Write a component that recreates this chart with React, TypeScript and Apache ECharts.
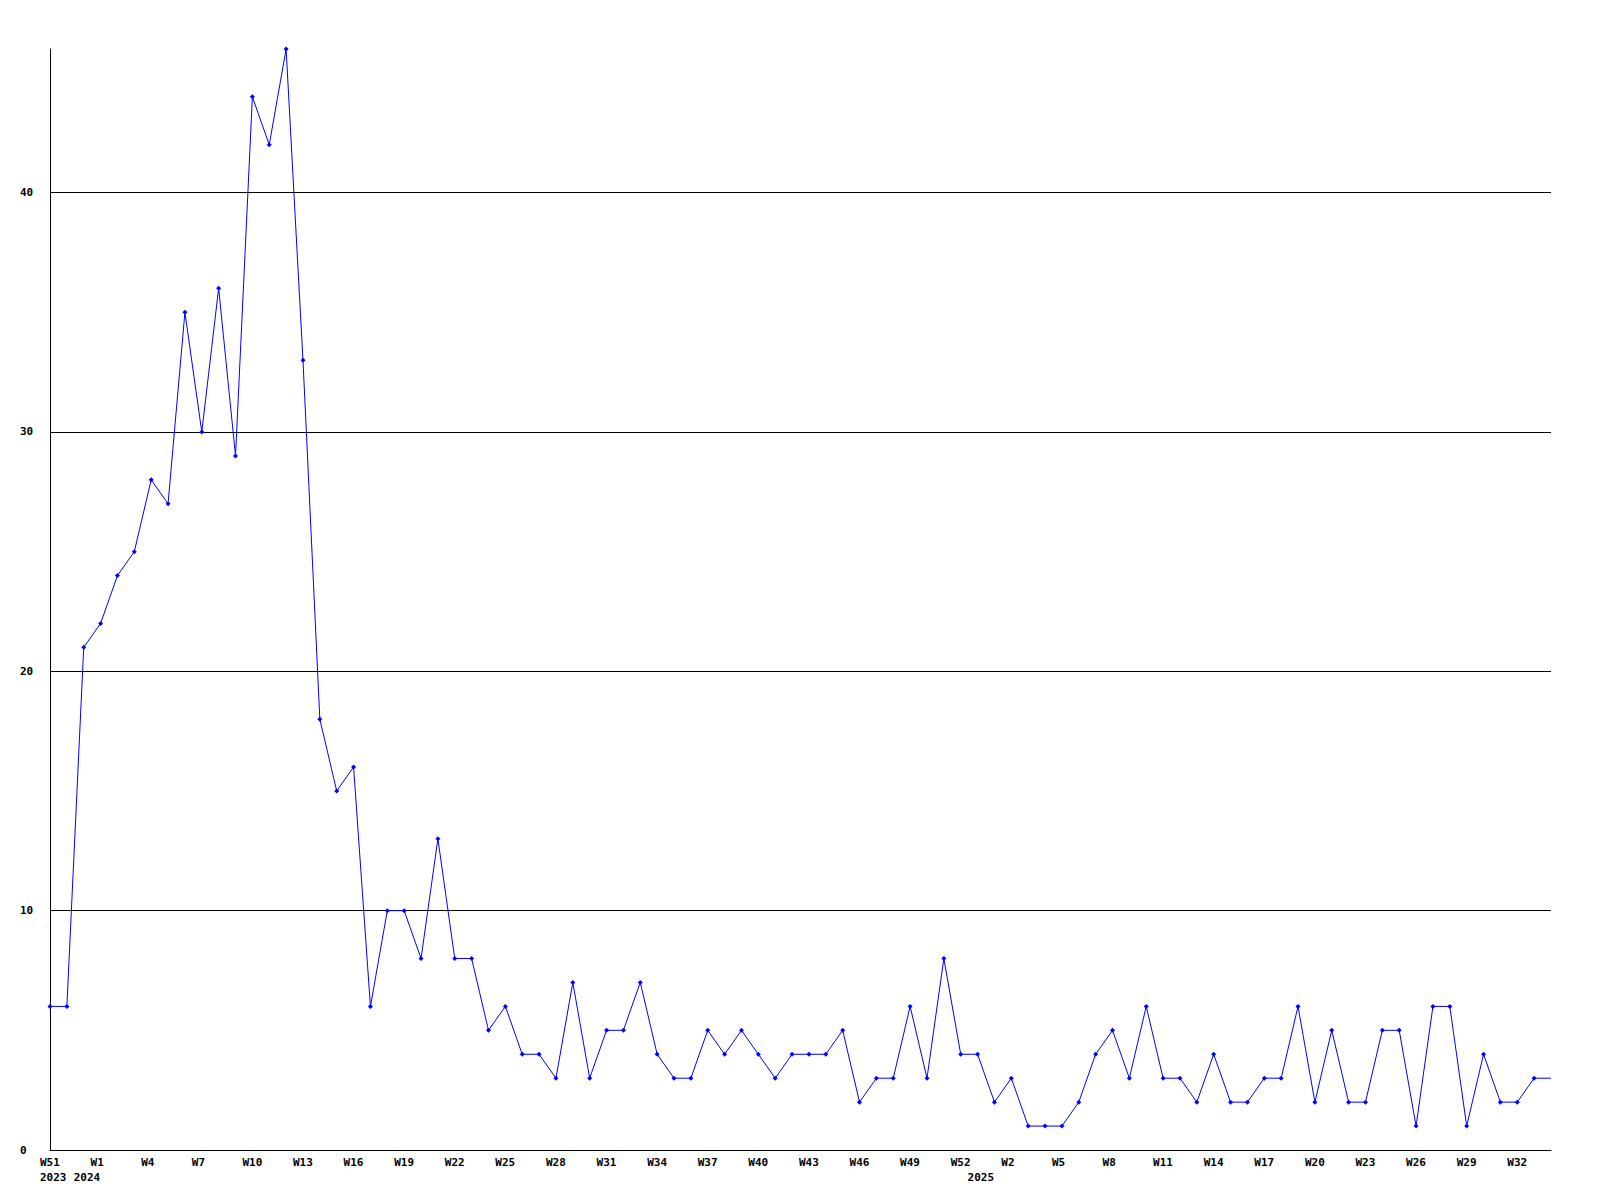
import React, { useEffect, useRef } from "react";
import * as echarts from "echarts";

// Weekly values, W51 2023 .. 2025
const values: number[] = [
  6, 6, 21, 22, 24, 25, 28, 27, 35, 30,
  36, 29, 44, 42, 46, 33, 18, 15, 16, 6,
  10, 10, 8, 13, 8, 8, 5, 6, 4, 4,
  3, 7, 3, 5, 5, 7, 4, 3, 3, 5,
  4, 5, 4, 3, 4, 4, 4, 5, 2, 3,
  3, 6, 3, 8, 4, 4, 2, 3, 1, 1,
  1, 2, 4, 5, 3, 6, 3, 3, 2, 4,
  2, 2, 3, 3, 6, 2, 5, 2, 2, 5,
  5, 1, 6, 6, 1, 4, 2, 2, 3, 3,
];

// Tick labels shown on every third week
const weekLabels: string[] = [
  "W51", "W1", "W4", "W7", "W10", "W13", "W16", "W19", "W22", "W25",
  "W28", "W31", "W34", "W37", "W40", "W43", "W46", "W49", "W52", "W2",
  "W5", "W8", "W11", "W14", "W17", "W20", "W23", "W26", "W29", "W32",
];
const labelStep = 3;

// Year labels and the week index where each one appears
const yearLabels: string[] = ["2023", "2024", "2025"];
const yearIndex: number[] = [0, 2, 55];

const yMin = 0;
const yMax = 46;
const yInterval = 10;

const FONT = "DejaVu Sans Mono";

export default function App() {
  const ref = useRef<HTMLDivElement>(null);

  useEffect(() => {
    if (!ref.current) return;
    const chart = echarts.init(ref.current, null, { renderer: "svg" });
    const categories = values.map((_, i) => String(i));
    const weekText = (i: number) => (i % labelStep === 0 ? weekLabels[i / labelStep] ?? "" : "");
    const yearText = (i: number) => {
      const k = yearIndex.indexOf(i);
      return k >= 0 ? yearLabels[k] : "";
    };
    const richBox = {
      w: {
        width: 20,
        align: "left",
        fontFamily: FONT,
        fontWeight: "bold",
        fontSize: 11,
        color: "#000",
      },
    };
    const seriesData = values.map((v, i) =>
      i === values.length - 1 ? { value: v, symbol: "none" } : v
    );
    chart.setOption({
      animation: false,
      backgroundColor: "#ffffff",
      grid: {
        left: 50,
        right: 49,
        top: 49,
        bottom: 50,
        containLabel: false,
        outerBoundsMode: "none",
      },
      xAxis: [
        {
          type: "category",
          data: categories,
          boundaryGap: false,
          axisLine: { show: true, lineStyle: { color: "#000", width: 1 } },
          axisTick: { show: false },
          splitLine: { show: false },
          axisLabel: {
            interval: (i: number) => i % labelStep === 0,
            margin: 7,
            formatter: (_v: string, i: number) => `{w|${weekText(i)}}`,
            rich: richBox,
          },
        },
        {
          type: "category",
          data: categories,
          position: "bottom",
          boundaryGap: false,
          axisLine: { show: false },
          axisTick: { show: false },
          splitLine: { show: false },
          axisLabel: {
            interval: (i: number) => yearIndex.indexOf(i) >= 0,
            margin: 22,
            formatter: (_v: string, i: number) => `{w|${yearText(i)}}`,
            rich: richBox,
          },
        },
      ],
      yAxis: {
        type: "value",
        min: yMin,
        max: yMax,
        interval: yInterval,
        axisLine: { show: true, lineStyle: { color: "#000", width: 1 } },
        axisTick: { show: false },
        splitLine: {
          show: true,
          showMinLine: false,
          showMaxLine: false,
          lineStyle: { color: "#000", width: 1 },
        },
        axisLabel: {
          showMaxLabel: false,
          align: "left",
          margin: 30,
          fontFamily: FONT,
          fontWeight: "bold",
          fontSize: 11,
          color: "#000",
        },
      },
      series: [
        {
          type: "line",
          data: seriesData,
          xAxisIndex: 0,
          symbol: "diamond",
          symbolSize: 5,
          showSymbol: true,
          lineStyle: { color: "#0000ff", width: 1 },
          itemStyle: { color: "#0000ff" },
          emphasis: { disabled: true },
          clip: false,
        },
      ],
    });
    return () => chart.dispose();
  }, []);

  return (
    <div
      ref={ref}
      style={{ position: "absolute", left: 0, top: 0, width: 1600, height: 1200 }}
    />
  );
}
